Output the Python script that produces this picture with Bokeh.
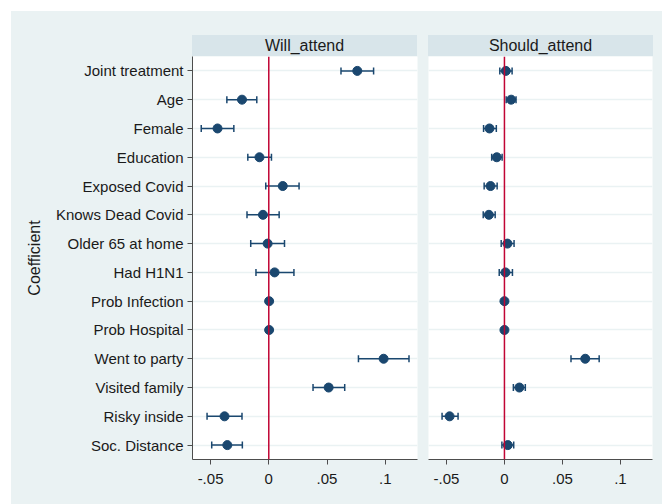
from bokeh.plotting import figure
from bokeh.layouts import row, column
from bokeh.models import (ColumnDataSource, Range1d, FactorRange, Span, Whisker,
                          TeeHead, FixedTicker, Div)
from bokeh.embed import file_html
from bokeh.resources import INLINE

# ---------------- data ----------------
variables = ["Joint treatment", "Age", "Female", "Education", "Exposed Covid",
             "Knows Dead Covid", "Older 65 at home", "Had H1N1", "Prob Infection",
             "Prob Hospital", "Went to party", "Visited family", "Risky inside",
             "Soc. Distance"]

will_coef = [0.076, -0.023, -0.044, -0.008, 0.012, -0.005, -0.001, 0.005,
             0.0003, 0.0003, 0.0986, 0.0514, -0.038, -0.0356]
will_lo = [0.062, -0.036, -0.058, -0.018, -0.0026, -0.0187, -0.0155, -0.011,
           -0.0002, -0.0002, 0.077, 0.038, -0.053, -0.049]
will_hi = [0.090, -0.0103, -0.030, 0.0023, 0.026, 0.0089, 0.0135, 0.0216,
           0.0008, 0.0008, 0.1204, 0.0652, -0.023, -0.0227]

should_coef = [0.0012, 0.0058, -0.0129, -0.0066, -0.012, -0.0134, 0.0026, 0.0009,
               0.0, 0.0, 0.0697, 0.0129, -0.0473, 0.0029]
should_lo = [-0.004, 0.0015, -0.018, -0.011, -0.0175, -0.0183, -0.0028, -0.0045,
             -0.0004, -0.0004, 0.0574, 0.0077, -0.0538, -0.0022]
should_hi = [0.0066, 0.010, -0.007, -0.002, -0.0063, -0.008, 0.0083, 0.0069,
             0.0004, 0.0004, 0.0817, 0.018, -0.040, 0.008]

panel_titles = ["Will_attend", "Should_attend"]
xtick_values = [-0.05, 0, 0.05, 0.1]
xtick_labels = ["-.05", "0", ".05", ".1"]
y_title = "Coefficient"

# ---------------- style ----------------
FONT = "Liberation Sans"
BG = "#EAF2F3"
STRIP = "#D8E5EA"
NAVY = "#1A476F"
RED = "#C10534"
AXIS = "#4D4D4D"
TEXT = "#1A1A1A"

x_range = Range1d(-0.0655, 0.1277)
y_range = FactorRange(factors=list(reversed(variables)), range_padding=0)

FIG_H = 448


def make_panel(coef, lo, hi, show_y, width, border_left, border_right):
    src = ColumnDataSource(dict(cat=variables, coef=coef, lo=lo, hi=hi))
    p = figure(width=width, height=FIG_H, x_range=x_range, y_range=y_range,
               output_backend="svg", toolbar_location=None,
               min_border_left=border_left, min_border_right=border_right,
               min_border_top=0, min_border_bottom=FIG_H - 403)
    p.background_fill_color = "white"
    p.border_fill_color = BG
    p.outline_line_color = None

    p.xgrid.visible = False
    p.ygrid.grid_line_color = BG
    p.ygrid.grid_line_width = 1.5

    p.add_layout(Span(location=0, dimension="height", line_color=RED,
                      line_width=1.5))

    wh = Whisker(source=src, base="cat", lower="lo", upper="hi",
                 dimension="width", line_color=NAVY, line_width=1.5,
                 upper_head=TeeHead(size=7, line_color=NAVY, line_width=1.5),
                 lower_head=TeeHead(size=7, line_color=NAVY, line_width=1.5))
    p.add_layout(wh)
    p.scatter("coef", "cat", source=src, size=9, fill_color=NAVY,
              line_color=NAVY)

    xa = p.xaxis[0]
    xa.ticker = FixedTicker(ticks=xtick_values)
    xa.major_label_overrides = dict(zip(xtick_values, xtick_labels))
    xa.minor_tick_line_color = None
    xa.major_tick_in = 0
    xa.major_tick_out = 5
    xa.axis_line_color = AXIS
    xa.major_tick_line_color = AXIS
    xa.major_label_text_font = FONT
    xa.major_label_text_font_size = "15px"
    xa.major_label_text_color = TEXT
    xa.major_label_standoff = 9

    ya = p.yaxis[0]
    if show_y:
        ya.major_tick_in = 0
        ya.major_tick_out = 5
        ya.axis_line_color = AXIS
        ya.major_tick_line_color = AXIS
        ya.major_label_text_font = FONT
        ya.major_label_text_font_size = "15px"
        ya.major_label_text_color = TEXT
        ya.major_label_standoff = 4
        ya.axis_label = y_title
        ya.axis_label_text_font = FONT
        ya.axis_label_text_font_size = "16px"
        ya.axis_label_text_font_style = "normal"
        ya.axis_label_text_color = TEXT
        ya.axis_label_standoff = 10
    else:
        ya.visible = False
    return p


def make_strip(title, left):
    return Div(text=title, width=225, height=21, margin=(24, 0, 0, left),
               styles={"background-color": STRIP, "text-align": "center",
                       "font-family": FONT, "font-size": "16px",
                       "line-height": "21px", "color": TEXT})


p1 = make_panel(will_coef, will_lo, will_hi, True, 411, 181, 5)
p2 = make_panel(should_coef, should_lo, should_hi, False, 240, 6, 10)

colL = column(make_strip(panel_titles[0], 181), p1)
colR = column(make_strip(panel_titles[1], 6), p2)
layout = row(colL, colR, margin=(11, 0, 0, 11), styles={"background-color": BG})

open("out.html", "w").write(file_html(layout, INLINE))
